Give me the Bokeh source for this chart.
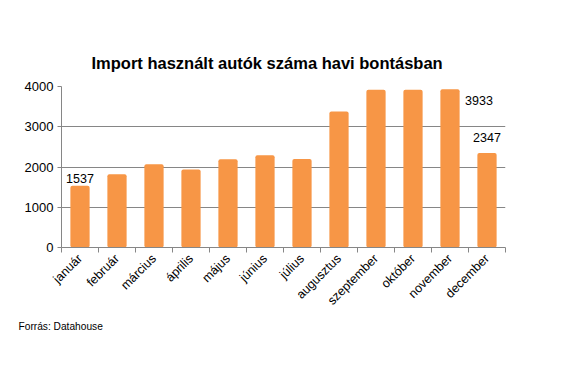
import math
from bokeh.plotting import figure
from bokeh.models import (Range1d, FixedTicker, CustomJSTickFormatter, Label, Title,
                          ColumnDataSource)
from bokeh.embed import file_html
from bokeh.resources import INLINE

months = ["január", "február", "március", "április", "május", "június", "július",
          "augusztus", "szeptember", "október", "november", "december"]
counts = [1537, 1820, 2070, 1940, 2190, 2290, 2200, 3380, 3920, 3920, 3933, 2347]
labelled = {"január": 1537, "november": 3933, "december": 2347}
yticks = [0, 1000, 2000, 3000, 4000]

FONT = "Liberation Sans"
ORANGE = "#F79646"
GRAY = "#868686"

idx = list(range(len(months)))
src = ColumnDataSource(dict(x=idx, top=counts, m=months))

p = figure(width=562, height=372, output_backend="svg", toolbar_location=None,
           x_range=Range1d(-0.5, len(months) - 0.5), y_range=Range1d(0, 4000),
           min_border_left=61, min_border_right=57, min_border_top=86,
           min_border_bottom=125)
p.outline_line_color = None
p.background_fill_color = "white"
p.border_fill_color = "white"

p.vbar(x="x", top="top", width=0.52, source=src, color=ORANGE, line_color=None,
       border_radius=2)

# title
t = Title(text="Import használt autók száma havi bontásban", align="left", offset=30,
          text_font=FONT, text_font_size="16.5px", text_font_style="bold",
          text_color="black", standoff=30)
p.add_layout(t, "above")

# axes
xa = p.xaxis[0]
xa.ticker = FixedTicker(ticks=idx, minor_ticks=[i - 0.5 for i in range(len(months) + 1)])
xa.formatter = CustomJSTickFormatter(args=dict(months=months),
                                     code="return months[Math.round(tick)] || ''")
xa.major_label_orientation = math.pi / 4
xa.major_tick_out = 0
xa.major_tick_in = 0
xa.minor_tick_out = 5
xa.minor_tick_in = 0
xa.minor_tick_line_color = GRAY
xa.axis_line_color = GRAY
xa.major_label_text_font = FONT
xa.major_label_text_font_size = "12.5px"
xa.major_label_text_color = "black"
xa.major_label_standoff = 4

ya = p.yaxis[0]
ya.ticker = FixedTicker(ticks=yticks)
ya.axis_line_color = GRAY
ya.major_tick_line_color = GRAY
ya.major_tick_out = 4
ya.major_tick_in = 0
ya.minor_tick_line_color = None
ya.major_label_text_font = FONT
ya.major_label_text_font_size = "13px"
ya.major_label_text_color = "black"
ya.major_label_standoff = 4

p.xgrid.visible = False
p.ygrid.grid_line_color = GRAY
p.ygrid.grid_line_width = 1

# data labels
offsets = {"január": (0, -3, "bottom"), "november": (29, 11, "middle"),
           "december": (0, -16, "middle")}
for m, v in labelled.items():
    i = months.index(m)
    dx, dy, base = offsets[m]
    lab = Label(x=i, y=v, text=str(v), x_offset=dx, y_offset=-dy,
                text_align="center", text_baseline=base, text_font=FONT,
                text_font_size="12.5px", text_color="black")
    p.add_layout(lab)

# footer
foot = Title(text="Forrás: Datahouse", align="left", offset=-43, standoff=7,
             text_font=FONT, text_font_size="10.2px", text_font_style="normal",
             text_color="black")
p.add_layout(foot, "below")

open("out.html", "w").write(file_html(p, INLINE))
